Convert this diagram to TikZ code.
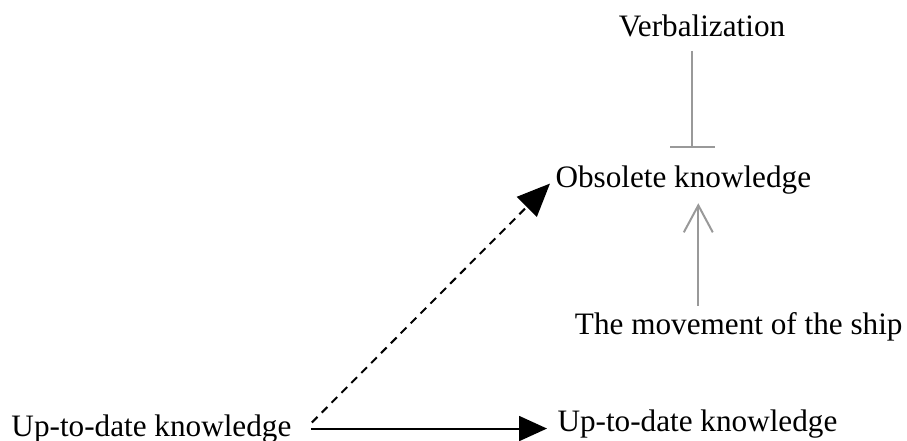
\documentclass[tikz,border=0pt]{standalone}
\usepackage{fontspec}
\setmainfont{Liberation Serif}
\usetikzlibrary{positioning, arrows.meta}

\begin{document}
\begin{tikzpicture}[
    x=1pt, y=-1pt,
    every node/.style={font=\fontsize{31.2}{36}\selectfont, inner sep=3.3pt},
    % Styles
    label-text/.style={anchor=base},
    inhibit-line/.style={arrows={-Bar[width=45pt]}, line width=2pt, black!40},
    push-arrow/.style={arrows={-Straight Barb[length=27pt, width=29pt, line width=2pt]}, line width=2pt, black!40},
    shift-arrow/.style={arrows={-Triangle[length=28pt, width=25pt]}, line width=2pt, black},
    drift-arrow/.style={arrows={-Triangle[length=33pt, width=28pt]}, line width=2pt, black, dash pattern=on 8pt off 6pt},
]
\useasboundingbox (0,0) rectangle (907,441);

% Top: obsolete knowledge and its influences
\node[label-text] (verb) at (702, 37) {Verbalization};
\node[label-text, anchor=base west] (obs) at (552, 187) {Obsolete knowledge};
\node[label-text, anchor=base east] (move) at (906, 334) {The movement of the ship};

\draw[inhibit-line, shorten <=10pt, shorten >=14pt] ([xshift=9pt]obs.north |- verb.south) -- ([xshift=9pt]obs.north);
\draw[push-arrow, shorten <=3pt, shorten >=6pt] ([xshift=15pt]move.north -| obs.south) -- ([xshift=15pt]obs.south);

% Bottom: up-to-date knowledge
\node[label-text, anchor=base west] (old) at (8, 436) {Up-to-date knowledge};
\node[label-text, anchor=base west] (new) at (554, 431) {Up-to-date knowledge};

\draw[shift-arrow, shorten <=16pt, shorten >=7pt] (old.east) -- (old.east -| new.west);
\draw[drift-arrow] ([xshift=17pt, yshift=6pt]old.east) -- ([xshift=-2pt, yshift=-4pt]obs.west);

\end{tikzpicture}
\end{document}
